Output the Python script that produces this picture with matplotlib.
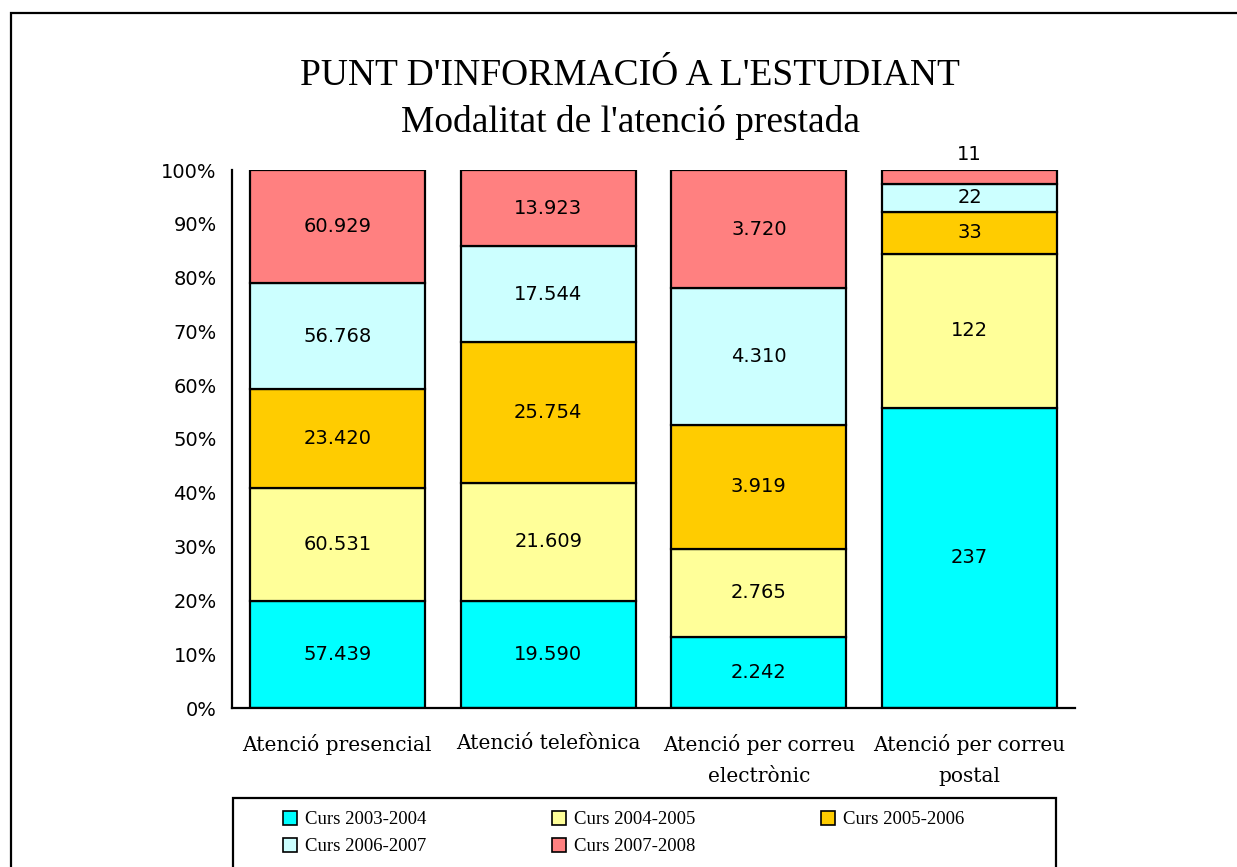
import numpy as np
import matplotlib
matplotlib.use("Agg")
import matplotlib.pyplot as plt
from matplotlib.patches import Rectangle, Patch
from matplotlib.ticker import PercentFormatter


modalitats = ["Atenció presencial", "Atenció telefònica",
              "Atenció per correu\nelectrònic", "Atenció per correu\npostal"]
cursos = ["Curs 2003-2004", "Curs 2004-2005", "Curs 2005-2006",
          "Curs 2006-2007", "Curs 2007-2008"]

# valors per curs (presencial, telefonica, correu electronic, correu postal)
curs_0304 = [57439, 19590, 2242, 237]
curs_0405 = [60531, 21609, 2765, 122]
curs_0506 = [53420, 25754, 3919, 33]
curs_0607 = [56768, 17544, 4310, 22]
curs_0708 = [60929, 13923, 3720, 11]

# textos que mostra el grafic original dins de cada tram
etiquetes_0304 = ["57.439", "19.590", "2.242", "237"]
etiquetes_0405 = ["60.531", "21.609", "2.765", "122"]
etiquetes_0506 = ["23.420", "25.754", "3.919", "33"]
etiquetes_0607 = ["56.768", "17.544", "4.310", "22"]
etiquetes_0708 = ["60.929", "13.923", "3.720", "11"]

colors = ["#00FFFF", "#FFFF99", "#FFCC00", "#CCFFFF", "#FF8080"]

series = np.array([curs_0304, curs_0405, curs_0506, curs_0607, curs_0708], dtype=float)
etiquetes = [etiquetes_0304, etiquetes_0405, etiquetes_0506, etiquetes_0607, etiquetes_0708]
fraccions = series / series.sum(axis=0)

W, H = 1237, 867
fig = plt.figure(figsize=(W / 100, H / 100), dpi=100)
ax = fig.add_axes([232 / W, 1 - 708 / H, (1075 - 232) / W, (708 - 170) / H])

x = np.arange(len(modalitats))
base = np.zeros(len(modalitats))
for i, curs in enumerate(cursos):
    ax.bar(x, fraccions[i], 0.83, bottom=base, color=colors[i],
           edgecolor="black", linewidth=1.6, label=curs)
    for j in range(len(modalitats)):
        h = fraccions[i][j]
        if h > 0.04:
            ax.text(x[j], base[j] + h / 2, etiquetes[i][j], ha="center", va="center",
                    fontsize=14, family="DejaVu Sans")
        else:
            ax.annotate(etiquetes[i][j], (x[j], base[j] + h), xytext=(0, 4),
                        textcoords="offset points", ha="center", va="bottom",
                        fontsize=14, family="DejaVu Sans")
    base += fraccions[i]

ax.set_xlim(-0.5, len(modalitats) - 0.5)
ax.set_ylim(0, 1)
ax.set_yticks(np.arange(0, 1.01, 0.1))
ax.yaxis.set_major_formatter(PercentFormatter(1.0, decimals=0))
ax.set_xticks(x)
ax.set_xticklabels(modalitats, family="DejaVu Serif", fontsize=14.5, linespacing=1.8)
ax.tick_params(axis="y", length=0, pad=11, labelsize=14)
ax.tick_params(axis="x", length=0, pad=19)
for lab in ax.get_yticklabels():
    lab.set_family("DejaVu Sans")
ax.spines["top"].set_visible(False)
ax.spines["right"].set_visible(False)
ax.spines["left"].set_linewidth(1.6)
ax.spines["bottom"].set_linewidth(1.6)

fig.text(630 / W, 1 - 76 / H, "PUNT D'INFORMACIÓ A L'ESTUDIANT", ha="center", va="center",
         fontsize=27, family="Liberation Serif")
fig.text(631 / W, 1 - 123 / H, "Modalitat de l'atenció prestada", ha="center", va="center",
         fontsize=27, family="Liberation Serif")

# llegenda: files com a l'original (ordre per columnes de matplotlib)
ordre = [0, 3, 1, 4, 2]
handles = [Patch(facecolor=colors[k], edgecolor="black", linewidth=1.2) for k in ordre]
fig.legend(handles, [cursos[k] for k in ordre], ncol=3, loc="upper left",
           bbox_to_anchor=(283 / W, 1 - 811 / H), frameon=False, borderpad=0,
           borderaxespad=0, handlelength=0.75, handleheight=0.75, handletextpad=0.43,
           columnspacing=6.7, labelspacing=0.5,
           prop={"family": "Liberation Serif", "size": 13.5})
fig.patches.append(Rectangle((233 / W, -0.1), (1056 - 233) / W, 0.1 + (867 - 798) / H,
                             transform=fig.transFigure, fill=False, edgecolor="black",
                             linewidth=1.6))

# marc exterior
fig.patches.append(Rectangle((11 / W, -0.1), 1.2, 0.1 + 1 - 13 / H,
                             transform=fig.transFigure, fill=False, edgecolor="black",
                             linewidth=1.6))

fig.savefig("out.png", dpi=100)
